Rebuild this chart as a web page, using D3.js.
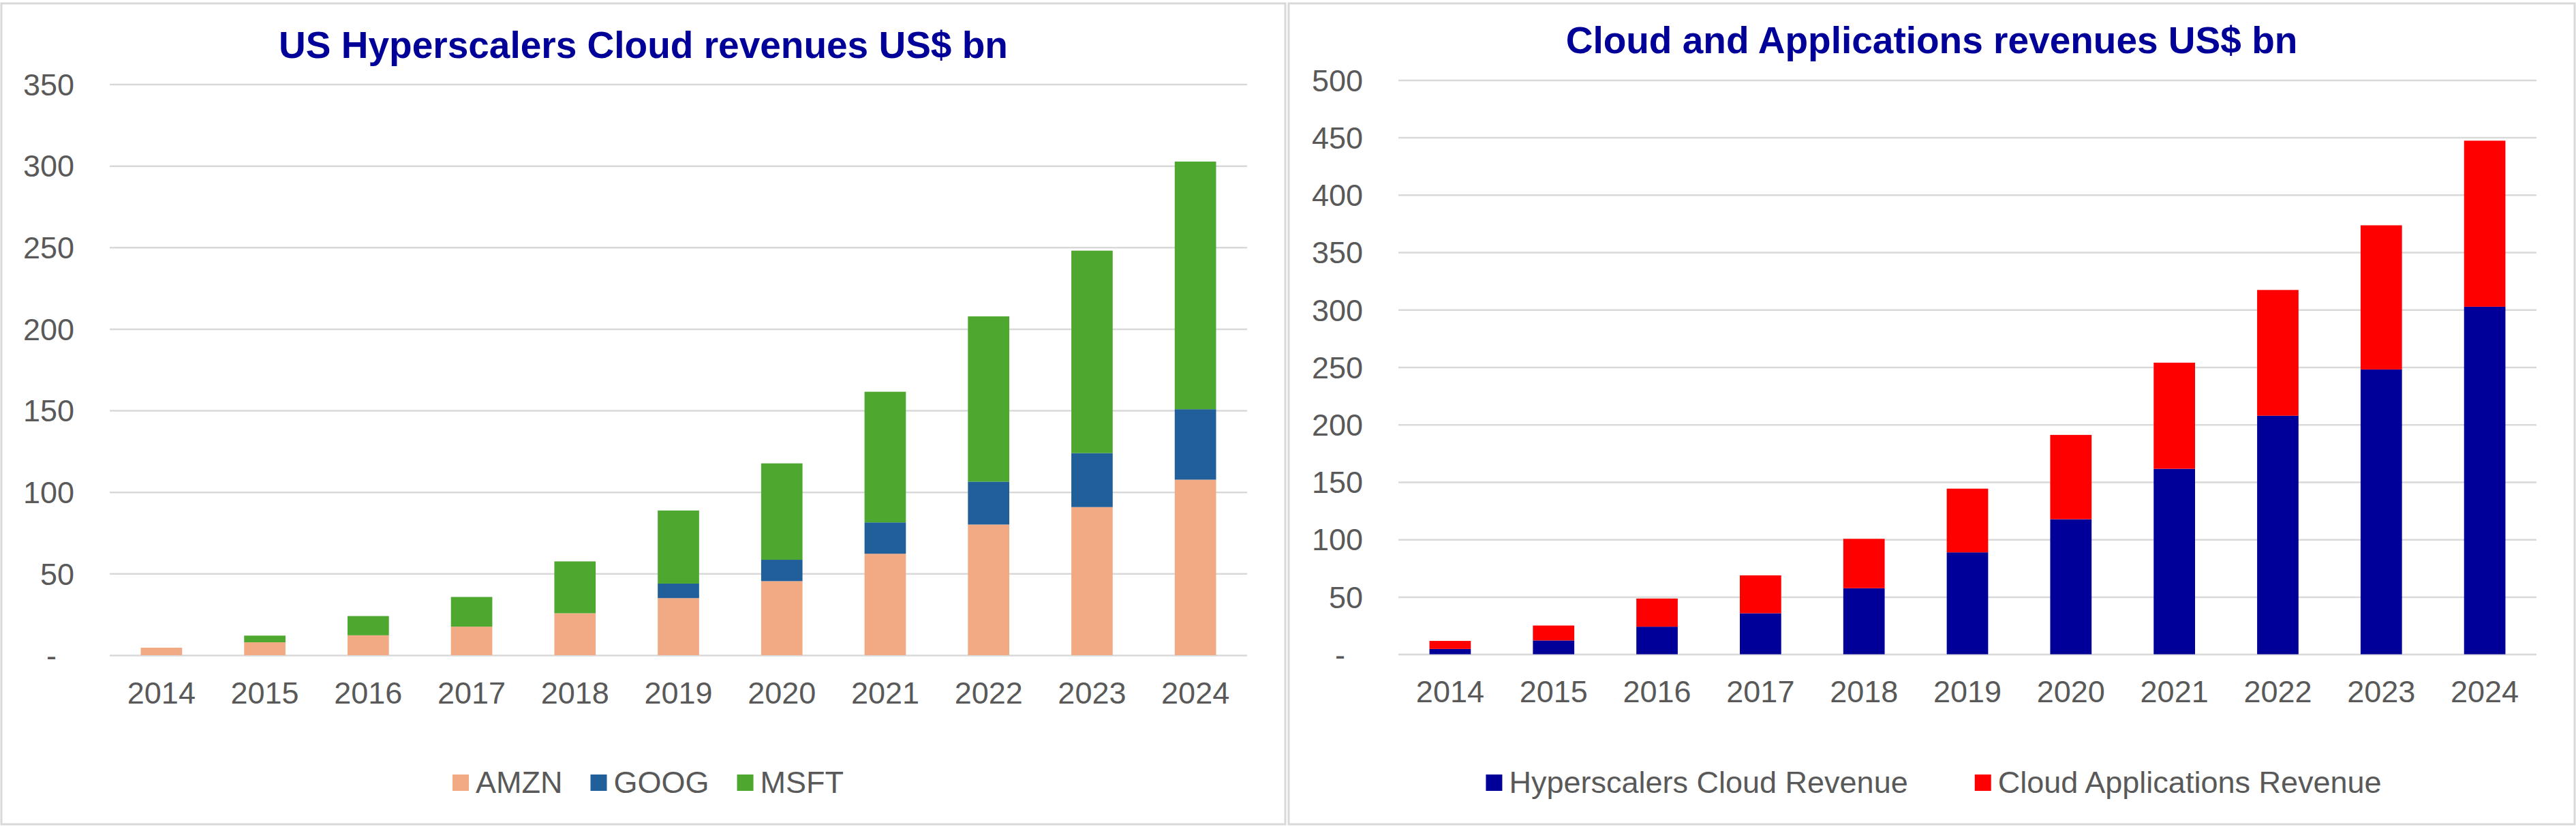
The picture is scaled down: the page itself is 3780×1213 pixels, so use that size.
<!DOCTYPE html>
<html>
<head>
<meta charset="utf-8">
<script src="https://cdn.jsdelivr.net/npm/d3@7"></script>
<style>
body { margin: 0; background: #fff; }
text { font-family: "Liberation Sans", Arial, sans-serif; }
</style>
</head>
<body>
<script>
// data, US$ bn
var years = ["2014", "2015", "2016", "2017", "2018", "2019", "2020", "2021", "2022", "2023", "2024"];

var amzn = [4.6, 7.9, 12.2, 17.5, 25.7, 35.0, 45.4, 62.2, 80.1, 90.8, 107.6];
var goog = [0, 0, 0, 0, 0, 8.9, 13.1, 19.2, 26.3, 33.1, 43.2];
var msft = [0, 4.1, 11.8, 18.2, 31.8, 44.8, 59.1, 80.1, 101.3, 124.1, 151.8];

var hyperscalers = [4.6, 12.0, 24.0, 35.7, 57.5, 88.7, 117.6, 161.5, 207.7, 248.0, 302.6];
var cloudApps = [7.0, 13.0, 24.5, 33.0, 43.0, 55.5, 73.4, 92.4, 109.5, 125.5, 144.6];

var leftTicks = [0, 50, 100, 150, 200, 250, 300, 350];
var rightTicks = [0, 50, 100, 150, 200, 250, 300, 350, 400, 450, 500];

var leftNames = ["AMZN", "GOOG", "MSFT"];
var rightNames = ["Hyperscalers Cloud Revenue", "Cloud Applications Revenue"];

var w = 3780;
var h = 1213;
var grey = "#d9d9d9";
var txt = "#595959";

var svg = d3.select("body")
	.append("svg")
	.attr("width", w)
	.attr("height", h);

svg.append("rect").attr("width", w).attr("height", h).attr("fill", "#fff");

function drawPanel(p) {
	var g = svg.append("g");

	// panel frame
	g.append("rect")
		.attr("x", p.bx0).attr("y", 5)
		.attr("width", p.bx1 - p.bx0).attr("height", 1204)
		.attr("fill", "none")
		.attr("stroke", grey)
		.attr("stroke-width", 3);

	g.append("text")
		.attr("x", (p.bx0 + p.bx1) / 2)
		.attr("y", p.titleY)
		.attr("text-anchor", "middle")
		.attr("font-size", 55)
		.attr("font-weight", "bold")
		.attr("fill", "#000099")
		.text(p.title);

	var x = d3.scaleBand()
		.domain(years)
		.range([p.left, p.right])
		.paddingInner(0.6)
		.paddingOuter(0.3);

	var y = d3.scaleLinear()
		.domain([0, p.ticks[p.ticks.length - 1]])
		.range([p.zero, p.top]);

	// grid + y labels
	var ya = g.append("g")
		.attr("transform", "translate(" + p.left + ",0)")
		.call(d3.axisLeft(y)
			.tickValues(p.ticks)
			.tickSize(-(p.right - p.left))
			.tickPadding(52)
			.tickFormat(function(d) { return d === 0 ? "-" : d; }));
	ya.select(".domain").remove();
	ya.selectAll("line").attr("stroke", grey).attr("stroke-width", 2.5);
	ya.selectAll("text")
		.attr("fill", txt)
		.attr("font-size", 45)
		.attr("font-family", null)
		.attr("dy", "0.35em")
		.attr("x", function(d) { return d === 0 ? -78 : -52; });

	// stacked bars
	var table = years.map(function(yr, i) {
		var row = { year: yr };
		p.keys.forEach(function(k, j) { row[k] = p.series[j][i]; });
		return row;
	});
	var stacked = d3.stack().keys(p.keys)(table);

	g.selectAll(".layer")
		.data(stacked)
		.enter()
		.append("g")
		.attr("fill", function(d, i) { return p.colors[i]; })
		.selectAll("rect")
		.data(function(d) { return d; })
		.enter()
		.append("rect")
		.attr("x", function(d) { return x(d.data.year); })
		.attr("width", x.bandwidth())
		.attr("y", function(d) { return y(d[1]); })
		.attr("height", function(d) { return y(d[0]) - y(d[1]); });

	// x labels
	var xa = g.append("g")
		.attr("transform", "translate(0," + p.zero + ")")
		.call(d3.axisBottom(x).tickSize(0));
	xa.select(".domain").remove();
	xa.selectAll("text")
		.attr("fill", txt)
		.attr("font-size", 45)
		.attr("font-family", null)
		.attr("dy", null)
		.attr("y", p.xLabelY);

	// legend
	var lg = g.append("g");
	var items = lg.selectAll("g")
		.data(p.keys)
		.enter()
		.append("g");
	items.append("rect")
		.attr("width", 24).attr("height", 24)
		.attr("y", -12)
		.attr("fill", function(d, i) { return p.colors[i]; });
	items.append("text")
		.attr("x", 34)
		.attr("y", 15)
		.attr("font-size", 45)
		.attr("fill", txt)
		.text(function(d) { return d; });

	var pos = 0;
	items.each(function() {
		var it = d3.select(this);
		it.attr("transform", "translate(" + pos + ",0)");
		pos += 34 + it.select("text").node().getComputedTextLength() + p.legendGap;
	});
	pos -= p.legendGap;
	lg.attr("transform", "translate(" + ((p.bx0 + p.bx1) / 2 - pos / 2 + p.legendShift) + ",1148)");
}

drawPanel({
	bx0: 2, bx1: 1886,
	title: "US Hyperscalers Cloud revenues US$ bn",
	titleY: 85,
	left: 161, right: 1830,
	top: 123.6, zero: 961,
	ticks: leftTicks,
	xLabelY: 71,
	keys: leftNames,
	series: [amzn, goog, msft],
	colors: ["#f2aa84", "#215f9a", "#4ea72e"],
	legendGap: 41,
	legendShift: 7
});

drawPanel({
	bx0: 1891, bx1: 3778,
	title: "Cloud and Applications revenues US$ bn",
	titleY: 78,
	left: 2052, right: 3722,
	top: 117.4, zero: 959.6,
	ticks: rightTicks,
	xLabelY: 70,
	keys: rightNames,
	series: [hyperscalers, cloudApps],
	colors: ["#000099", "#ff0000"],
	legendGap: 98,
	legendShift: 3
});
</script>
</body>
</html>
